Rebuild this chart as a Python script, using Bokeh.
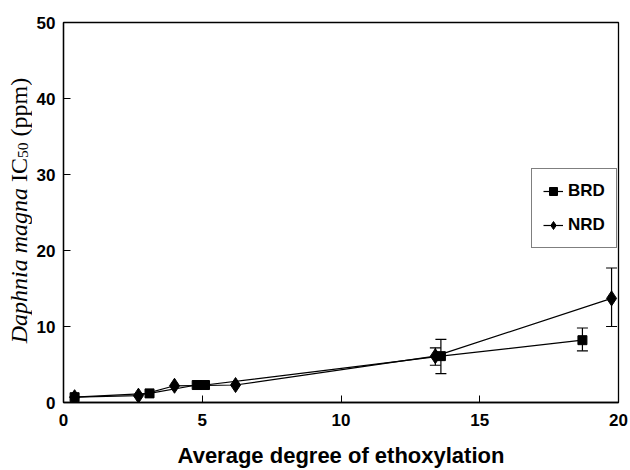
import math
from bokeh.plotting import figure
from bokeh.layouts import row
from bokeh.models import Label, Legend, LegendItem, Whisker, TeeHead, ColumnDataSource, FixedTicker
from bokeh.embed import file_html
from bokeh.resources import INLINE

# Data
brd_x = [0.4, 3.1, 4.8, 5.1, 13.6, 18.7]
brd_y = [0.7, 1.2, 2.3, 2.3, 6.1, 8.2]
brd_err_x = [13.6, 18.7]
brd_err_lo = [3.8, 6.8]
brd_err_hi = [8.3, 9.8]

nrd_x = [0.4, 2.7, 4.0, 6.2, 13.4, 19.75]
nrd_y = [0.7, 0.9, 2.2, 2.3, 6.1, 13.7]
nrd_err_x = [13.4, 19.75]
nrd_err_lo = [4.9, 10.0]
nrd_err_hi = [7.2, 17.7]

x_ticks = [0, 5, 10, 15, 20]
y_ticks = [0, 10, 20, 30, 40, 50]

LEFT_W = 32
W, H = 630, 470
TOP, BOTTOM = 22, 68

p = figure(width=W - LEFT_W, height=H, x_range=(0, 20), y_range=(0, 50),
           output_backend="svg", toolbar_location=None,
           min_border_left=63 - LEFT_W, min_border_right=12, min_border_top=TOP, min_border_bottom=BOTTOM)
p.grid.visible = False
p.outline_line_color = "black"
p.outline_line_width = 1.3
p.background_fill_color = "white"
p.border_fill_color = "white"

for ax in (p.xaxis[0], p.yaxis[0]):
    ax.axis_line_color = "black"
    ax.axis_line_width = 1.3
    ax.major_tick_in = 7
    ax.major_tick_out = 0
    ax.minor_tick_line_color = None
    ax.major_tick_line_color = "black"
    ax.major_label_text_font = "Liberation Sans"
    ax.major_label_text_font_style = "bold"
    ax.major_label_text_font_size = "17px"
    ax.major_label_text_color = "black"

p.xaxis[0].ticker = FixedTicker(ticks=x_ticks)
p.yaxis[0].ticker = FixedTicker(ticks=y_ticks)
p.xaxis[0].major_label_standoff = 11
p.yaxis[0].major_label_standoff = 8

p.xaxis[0].axis_label = "Average degree of ethoxylation"
p.xaxis[0].axis_label_text_font = "Liberation Sans"
p.xaxis[0].axis_label_text_font_style = "bold"
p.xaxis[0].axis_label_text_font_size = "22px"
p.xaxis[0].axis_label_text_color = "black"
p.xaxis[0].axis_label_standoff = 14

brd_line = p.line(brd_x, brd_y, line_color="black", line_width=1.2)
brd_pts = p.scatter(brd_x, brd_y, marker="square", size=9, fill_color="black", line_color="black")
nrd_line = p.line(nrd_x, nrd_y, line_color="black", line_width=1.2)
nrd_pts = p.scatter(nrd_x, nrd_y, marker="diamond", size=15, fill_color="black", line_color="black")

for ex, lo, hi in ((brd_err_x, brd_err_lo, brd_err_hi), (nrd_err_x, nrd_err_lo, nrd_err_hi)):
    src = ColumnDataSource(dict(base=ex, lower=lo, upper=hi))
    w = Whisker(source=src, base="base", lower="lower", upper="upper", dimension="height",
                line_color="black", line_width=1.2,
                upper_head=TeeHead(size=11, line_color="black", line_width=1.2),
                lower_head=TeeHead(size=11, line_color="black", line_width=1.2))
    p.add_layout(w)

legend = Legend(items=[LegendItem(label="BRD", renderers=[brd_line, brd_pts]),
                       LegendItem(label="NRD", renderers=[nrd_line, nrd_pts])],
                location=(468, 154))
legend.label_text_font = "Liberation Sans"
legend.label_text_font_style = "bold"
legend.label_text_font_size = "17px"
legend.label_text_color = "black"
legend.border_line_color = "black"
legend.border_line_width = 1.2
legend.background_fill_alpha = 1.0
legend.glyph_width = 20
legend.glyph_height = 22
legend.label_height = 22
legend.spacing = 12
legend.padding = 11
legend.margin = 0
legend.label_standoff = 5
p.add_layout(legend)

# Narrow left strip holding the y-axis title; its frame is aligned with the main frame,
# so its y range is set so that data units equal page pixels (y = H - py).
t = figure(width=LEFT_W, height=H, x_range=(0, LEFT_W), y_range=(BOTTOM, H - TOP),
           x_axis_location=None, y_axis_location=None,
           output_backend="svg", toolbar_location=None,
           min_border=0, min_border_left=0, min_border_right=0, min_border_top=0, min_border_bottom=0)
t.grid.visible = False
t.outline_line_color = None
t.background_fill_color = "white"
t.border_fill_color = "white"

F = 24.0
SUB = 15.5
# (text, style, size, advance in 1/1000 em incl. following gap, shift across baseline)
pieces = [
    ("Daphnia magna", "italic", F, 6472 + 250, 0),
    ("IC", "normal", F, 1000, 0),
    ("50", "normal", SUB, 1000 + 250 * F / SUB, 4),
    ("(ppm)", "normal", F, 2444, 0),
]
total = sum(w * s / 1000.0 for _, _, s, w, _ in pieces)
center_py = 210
start_py = center_py + total / 2
base_px = 18
cur = start_py
for txt, style, size, w, shift in pieces:
    t.add_layout(Label(x=base_px + shift, y=H - cur, text=txt,
                       angle=math.pi / 2, text_align="left", text_baseline="alphabetic",
                       text_font="Liberation Serif", text_font_style=style,
                       text_font_size=f"{size}px", text_color="black"))
    cur -= w * size / 1000.0

layout = row(t, p, spacing=0)
open("out.html", "w").write(file_html(layout, INLINE))
